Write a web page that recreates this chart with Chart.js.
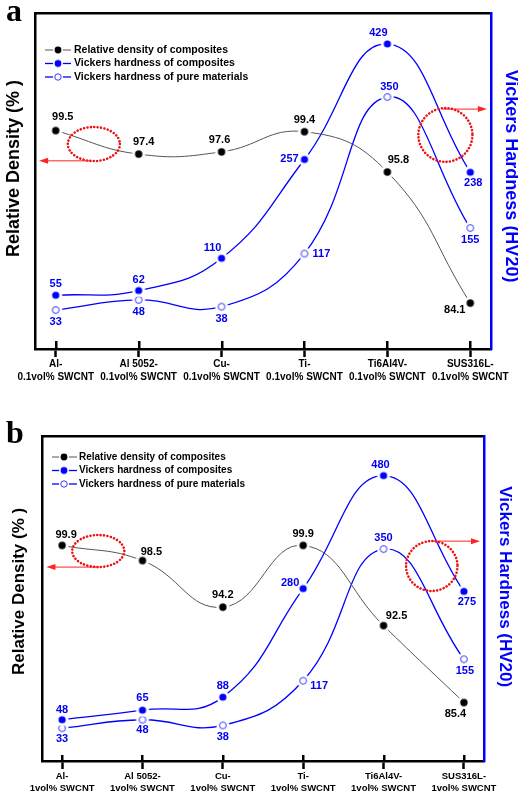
<!DOCTYPE html>
<html><head><meta charset="utf-8">
<script src="https://cdn.jsdelivr.net/npm/chart.js@4.4.1/dist/chart.umd.min.js"></script>
<style>
html,body{margin:0;padding:0;background:#fff;width:518px;height:797px;overflow:hidden;}
canvas{position:absolute;left:0;}
#ca{top:0;}
#cb{top:398px;}
.tag{position:absolute;left:6px;font:bold 32px 'Liberation Serif','Times New Roman',serif;line-height:32px;color:#000;}
</style></head><body>
<canvas id="ca" width="518" height="390"></canvas>
<canvas id="cb" width="518" height="399"></canvas>
<div class="tag" style="top:-6px">a</div>
<div class="tag" style="top:416px">b</div>
<script>
// ---------- data ----------
const categoriesA = [["Al-","0.1vol% SWCNT"],["Al 5052-","0.1vol% SWCNT"],["Cu-","0.1vol% SWCNT"],["Ti-","0.1vol% SWCNT"],["Ti6Al4V-","0.1vol% SWCNT"],["SUS316L-","0.1vol% SWCNT"]];
const categoriesB = [["Al-","1vol% SWCNT"],["Al 5052-","1vol% SWCNT"],["Cu-","1vol% SWCNT"],["Ti-","1vol% SWCNT"],["Ti6Al4V-","1vol% SWCNT"],["SUS316L-","1vol% SWCNT"]];
const seriesNames = ["Relative density of composites","Vickers hardness of composites","Vickers hardness of pure materials"];
const densityA = [99.5, 97.4, 97.6, 99.4, 95.8, 84.1];
const hardnessCompA = [55, 62, 110, 257, 429, 238];
const hardnessPureA = [33, 48, 38, 117, 350, 155];
const densityB = [99.9, 98.5, 94.2, 99.9, 92.5, 85.4];
const hardnessCompB = [48, 65, 88, 280, 480, 275];
const hardnessPureB = [33, 48, 38, 117, 350, 155];
const densityRange = [80, 110];
const hardnessRangeA = [-25, 475];
const hardnessRangeB = [-25, 550];
const leftTitle = "Relative Density (% )";
const rightTitle = "Vickers Hardness (HV20)";

// ---------- label placement (px offsets from each point) ----------
const offDensA = [[7,-13.5],[5,-12],[-2,-12],[0,-12],[11,-12],[-15.5,6.5]];
const offCompA = [[0,-11],[0,-11],[-9,-10],[-15,-1],[-9,-11],[3,11]];
const offPureA = [[0,12],[0,12],[0,12],[17,0],[2,-10],[0,12]];
const offDensB = [[4,-10],[9,-9],[0,-12],[0,-11],[13,-10],[-8.5,11.5]];
const offCompB = [[0,-10],[0,-12],[0,-11],[-13,-6],[-3,-11],[3,11]];
const offPureB = [[0,11],[0,10],[0,12],[16,5],[0,-11],[1,12]];

// ---------- highlight marks, in data units ----------
const marksA = [
  {axis:'yL', cx:0.46, cy:98.3, rx:0.314, ry:1.52, ax0:0.41, ax1:-0.2, ay:96.8},
  {axis:'yR', cx:4.70, cy:293.5, rx:0.326, ry:40, ax0:4.67, ax1:5.2, ay:332}
];
const marksB = [
  {axis:'yL', cx:0.45, cy:99.38, rx:0.324, ry:1.48, ax0:0.46, ax1:-0.195, ay:97.9},
  {axis:'yR', cx:4.60, cy:320, rx:0.32, ry:44.2, ax0:4.61, ax1:5.2, ay:364}
];

const FONT = "'Liberation Sans', Arial, Helvetica, sans-serif";
Chart.defaults.font.family = FONT;
const BLUE = '#0000ff';

function makeMarker(fill, stroke, r, sw, halo) {
  const c = document.createElement('canvas');
  const s = 16; c.width = s; c.height = s;
  const g = c.getContext('2d');
  const m = s / 2;
  g.fillStyle = '#fff'; g.beginPath(); g.arc(m, m, halo, 0, Math.PI * 2); g.fill();
  g.fillStyle = fill; g.beginPath(); g.arc(m, m, r, 0, Math.PI * 2); g.fill();
  if (stroke) { g.strokeStyle = stroke; g.lineWidth = sw; g.stroke(); }
  return c;
}
const mkBlack = makeMarker('#000', null, 3.7, 0, 6.5);
const mkBlue = makeMarker(BLUE, null, 3.6, 0, 6.5);
const mkOpen = makeMarker('#fff', '#3a3aff', 3.4, 1, 6.5);
const legendMarkers = [
  makeMarker('#000', null, 3.4, 0, 5),
  makeMarker(BLUE, null, 3.4, 0, 5),
  makeMarker('#fff', '#3a3aff', 3.2, 1, 5)
];

const innerTicks = {
  id: 'innerTicks',
  afterDraw(chart, args, opts) {
    const s = chart.scales.x, ctx = chart.ctx;
    ctx.save(); ctx.strokeStyle = '#000'; ctx.lineWidth = 2.5;
    s.ticks.forEach(t => {
      const x = Math.round(s.getPixelForValue(t.value)) + 0.25;
      ctx.beginPath(); ctx.moveTo(x, s.top); ctx.lineTo(x, s.top - opts.len); ctx.stroke();
    });
    ctx.restore();
  }
};

const pointLabels = {
  id: 'pointLabels',
  afterDatasetsDraw(chart) {
    const ctx = chart.ctx;
    ctx.save();
    ctx.font = 'bold 11px ' + FONT;
    ctx.textAlign = 'center'; ctx.textBaseline = 'middle';
    chart.data.datasets.forEach((ds, di) => {
      const meta = chart.getDatasetMeta(di);
      ctx.fillStyle = ds.labelColor;
      meta.data.forEach((pt, i) => {
        const o = ds.labelOffsets[i];
        ctx.fillText(ds.data[i].y.toFixed(ds.decimals), pt.x + o[0], pt.y + o[1]);
      });
    });
    ctx.restore();
  }
};

const highlight = {
  id: 'highlight',
  afterDraw(chart, args, opts) {
    const ctx = chart.ctx, x = chart.scales.x;
    ctx.save();
    opts.marks.forEach(m => {
      const y = chart.scales[m.axis];
      const cx = x.getPixelForValue(m.cx), cy = y.getPixelForValue(m.cy);
      const rx = Math.abs(x.getPixelForValue(m.cx + m.rx) - cx);
      const ry = Math.abs(y.getPixelForValue(m.cy + m.ry) - cy);
      ctx.strokeStyle = '#ee1111'; ctx.lineWidth = 2.6; ctx.lineCap = 'round';
      ctx.setLineDash([0.01, 3.4]);
      ctx.beginPath(); ctx.ellipse(cx, cy, rx, ry, 0, 0, Math.PI * 2); ctx.stroke();
      ctx.setLineDash([]); ctx.lineCap = 'butt';
      const x0 = x.getPixelForValue(m.ax0), x1 = x.getPixelForValue(m.ax1), ay = y.getPixelForValue(m.ay);
      const dir = Math.sign(x1 - x0);
      ctx.strokeStyle = '#ff2222'; ctx.lineWidth = 1;
      ctx.beginPath(); ctx.moveTo(x0, ay); ctx.lineTo(x1 - dir * 6, ay); ctx.stroke();
      ctx.fillStyle = '#ff2222';
      ctx.beginPath(); ctx.moveTo(x1, ay); ctx.lineTo(x1 - dir * 9, ay - 3); ctx.lineTo(x1 - dir * 9, ay + 3); ctx.closePath(); ctx.fill();
    });
    ctx.restore();
  }
};

const legendBox = {
  id: 'legendBox',
  afterDraw(chart, args, o) {
    const ctx = chart.ctx;
    ctx.save();
    chart.data.datasets.forEach((ds, i) => {
      const y = o.y0 + i * o.dy;
      ctx.strokeStyle = ds.borderColor; ctx.lineWidth = ds.borderWidth;
      ctx.beginPath(); ctx.moveTo(o.x0, y); ctx.lineTo(o.x1, y); ctx.stroke();
      const img = legendMarkers[i];
      ctx.drawImage(img, o.xm - img.width / 2, y - img.height / 2);
      ctx.fillStyle = '#000'; ctx.font = 'bold ' + o.size + 'px ' + FONT;
      ctx.textAlign = 'left'; ctx.textBaseline = 'middle';
      ctx.fillText(ds.label, o.xt, y);
    });
    ctx.restore();
  }
};

function build(id, c) {
  const pts = vals => vals.map((v, i) => ({x: i, y: v}));
  return new Chart(document.getElementById(id), {
    type: 'line',
    data: {
      datasets: [
        {label: seriesNames[0], data: pts(c.density), yAxisID: 'yL', borderColor: '#555', borderWidth: 1,
         tension: 0.45, pointStyle: mkBlack, pointRadius: 4, labelOffsets: c.offD, decimals: 1, labelColor: '#000'},
        {label: seriesNames[1], data: pts(c.comp), yAxisID: 'yR', borderColor: BLUE, borderWidth: 1.3,
         tension: 0.45, pointStyle: mkBlue, pointRadius: 4, labelOffsets: c.offC, decimals: 0, labelColor: '#0000ee'},
        {label: seriesNames[2], data: pts(c.pure), yAxisID: 'yR', borderColor: BLUE, borderWidth: 1.3,
         tension: 0.45, pointStyle: mkOpen, pointRadius: 4, labelOffsets: c.offP, decimals: 0, labelColor: '#0000ee'}
      ]
    },
    options: {
      responsive: false, animation: false, devicePixelRatio: 1,
      layout: {padding: c.pad, autoPadding: false},
      plugins: {
        legend: {display: false}, tooltip: {enabled: false},
        innerTicks: {len: c.inLen},
        highlight: {marks: c.marks},
        legendBox: c.legend
      },
      scales: {
        x: {type: 'linear', position: 'bottom', min: -0.25, max: 5.25,
            afterBuildTicks: s => { s.ticks = c.cats.map((_, i) => ({value: i})); },
            ticks: {callback: v => c.cats[v], color: '#000', padding: 1, maxRotation: 0, autoSkip: false,
                    font: {size: c.tickSize, weight: 'bold', lineHeight: c.tickLH}},
            grid: {display: true, drawOnChartArea: false, drawTicks: true, tickLength: 8, tickWidth: 2.5, tickColor: '#000'},
            border: {display: true, color: '#000', width: 2.5}},
        xTop: {type: 'linear', position: 'top', min: -0.25, max: 5.25,
            ticks: {display: false}, grid: {display: false, drawTicks: false}, border: {display: true, color: '#000', width: 2.5}},
        yL: {type: 'linear', position: 'left', min: densityRange[0], max: densityRange[1],
            ticks: {display: false}, grid: {display: false, drawTicks: false}, border: {display: true, color: '#000', width: 2.5},
            title: {display: true, text: c.lTitle, color: '#000', padding: c.lPad,
                    font: {size: c.titleSize, weight: 'bold', lineHeight: 1}}},
        yR: {type: 'linear', position: 'right', min: c.hRange[0], max: c.hRange[1],
            ticks: {display: false}, grid: {display: false, drawTicks: false}, border: {display: true, color: BLUE, width: 2.5},
            title: {display: true, text: c.rTitle, color: BLUE, padding: c.rPad,
                    font: {size: c.titleSize, weight: 'bold', lineHeight: 0.8}}}
      }
    },
    plugins: [innerTicks, pointLabels, highlight, legendBox]
  });
}

build('ca', {
  cats: categoriesA, density: densityA, comp: hardnessCompA, pure: hardnessPureA,
  offD: offDensA, offC: offCompA, offP: offPureA, marks: marksA, hRange: hardnessRangeA,
  pad: {top: 13, bottom: 5, left: 0, right: 0}, inLen: 8, tickSize: 10, tickLH: 1.3,
  titleSize: 18, lTitle: '     ' + leftTitle, rTitle: rightTitle + '  ',
  lPad: {top: 5, bottom: 12}, rPad: {top: 0, bottom: 12.6},
  legend: {x0: 45, x1: 71, xm: 58, xt: 74, y0: 50, dy: 13.5, size: 10.5}
});
build('cb', {
  cats: categoriesB, density: densityB, comp: hardnessCompB, pure: hardnessPureB,
  offD: offDensB, offC: offCompB, offP: offPureB, marks: marksB, hRange: hardnessRangeB,
  pad: {top: 38, bottom: 2, left: 0, right: 0}, inLen: 6, tickSize: 9.5, tickLH: 1.263,
  titleSize: 17, lTitle: '   ' + leftTitle, rTitle: rightTitle + '     ',
  lPad: {top: 10.5, bottom: 14.5}, rPad: {top: 6.2, bottom: 14.2},
  legend: {x0: 52, x1: 77, xm: 64, xt: 79, y0: 59, dy: 13.5, size: 10}
});
</script>
</body></html>
